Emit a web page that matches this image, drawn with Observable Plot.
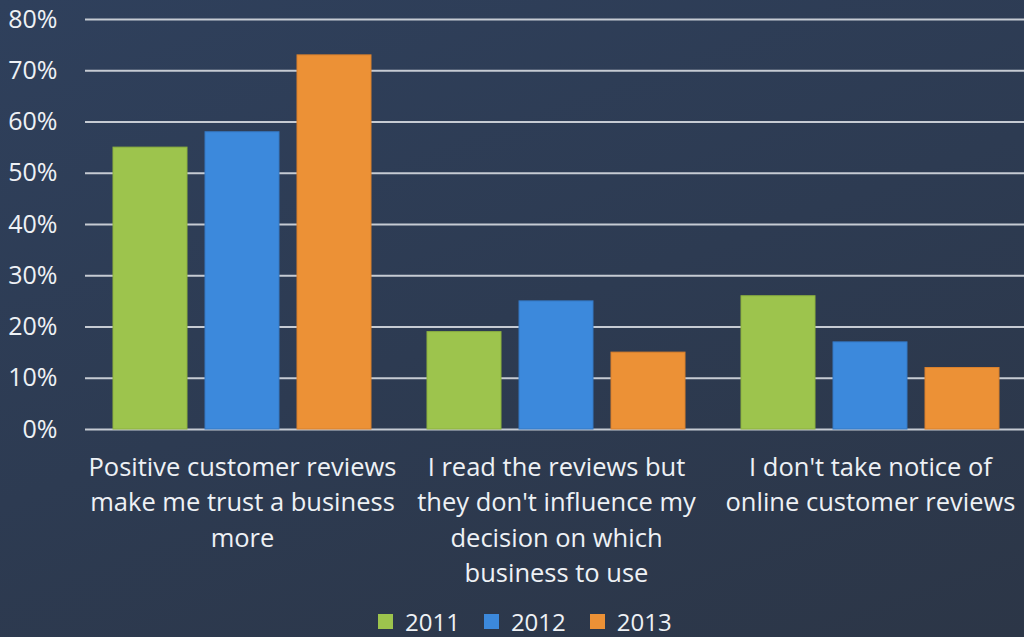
<!DOCTYPE html>
<html>
<head>
<meta charset="utf-8">
<script src="https://cdn.jsdelivr.net/npm/d3@7"></script>
<script src="https://cdn.jsdelivr.net/npm/@observablehq/plot@0.6"></script>
<style>
  html, body { margin: 0; padding: 0; }
  body {
    width: 1024px; height: 637px; overflow: hidden;
    background: linear-gradient(160deg, #2f405c 0%, #2d3b52 50%, #2c3647 100%);
    font-family: "Open Sans", sans-serif;
  }
  #chart svg { display: block; }
  #legend { padding-left: 378px; margin-top: 8px; }
</style>
</head>
<body>
<div id="chart"></div>
<div id="legend"></div>
<script>
const categories = [
  "Positive customer reviews\nmake me trust a business\nmore",
  "I read the reviews but\nthey don't influence my\ndecision on which\nbusiness to use",
  "I don't take notice of\nonline customer reviews"
];
const years = ["2011", "2012", "2013"];
const values2011 = [55, 19, 26];
const values2012 = [58, 25, 17];
const values2013 = [73, 15, 12];
const yTicks = [0, 10, 20, 30, 40, 50, 60, 70, 80];
const colors = ["#9dc44d", "#3c89dc", "#ec9136"];
const strokes = ["#8db23f", "#3478c4", "#d9802c"];

const seriesByYear = [values2011, values2012, values2013];
const data = [];
categories.forEach((c, i) => {
  years.forEach((y, j) => data.push({category: c, year: y, value: seriesByYear[j][i]}));
});

const chart = Plot.plot({
  width: 1024,
  height: 597,
  marginTop: 19,
  marginLeft: 85,
  marginRight: -3,
  marginBottom: 168,
  style: {background: "transparent", color: "#eef1f5", fontFamily: "Open Sans, sans-serif", fontSize: "25px"},
  fx: {domain: categories, padding: 0, label: null, axis: null},
  x: {domain: years, paddingInner: 0.196, paddingOuter: 0.304, axis: null},
  y: {domain: [0, 80], ticks: yTicks, tickFormat: d => d + "%", tickSize: 0, tickPadding: 28, label: null},
  color: {domain: years, range: colors},
  marks: [
    Plot.ruleY(yTicks, {stroke: "#c6cbd3", strokeWidth: 2}),
    Plot.barY(data, {fx: "category", x: "year", y: "value", fill: "year",
      stroke: d => strokes[years.indexOf(d.year)], strokeWidth: 1}),
    Plot.axisFx({anchor: "bottom", tickSize: 0, tickPadding: 21, lineHeight: 1.39, fontSize: 25.5, fill: "#eef1f5", label: null})
  ]
});
document.getElementById("chart").appendChild(chart);

const legend = chart.legend("color", {swatchSize: 15, style: {fontSize: "24px", color: "#eef1f5", fontFamily: "Open Sans, sans-serif"}});
document.getElementById("legend").appendChild(legend);
</script>
</body>
</html>
